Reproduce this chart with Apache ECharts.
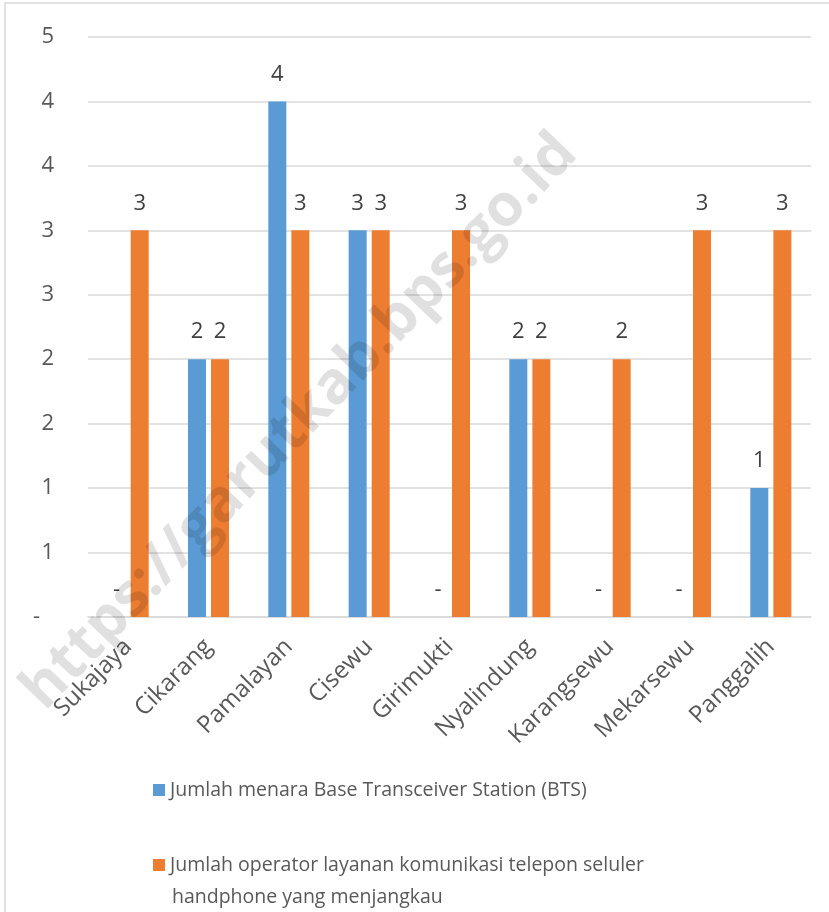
<!DOCTYPE html>
<html>
<head>
<meta charset="utf-8">
<script src="https://cdn.jsdelivr.net/npm/echarts@6/dist/echarts.min.js"></script>
<style>
  html, body { margin: 0; padding: 0; background: #fff; }
  #chart { width: 829px; height: 912px; }
</style>
</head>
<body>
<div id="chart"></div>
<script>
const categories = ["Sukajaya", "Cikarang", "Pamalayan", "Cisewu", "Girimukti", "Nyalindung", "Karangsewu", "Mekarsewu", "Panggalih"];
const btsValues = [0, 2, 4, 3, 0, 2, 0, 0, 1];
const operatorValues = [3, 2, 3, 3, 3, 2, 2, 3, 3];
const btsName = "Jumlah menara Base Transceiver Station (BTS)";
const operatorName = "Jumlah operator layanan komunikasi telepon seluler handphone yang menjangkau";

const font = "Open Sans";
const chart = echarts.init(document.getElementById("chart"));

// Excel-style: zero shows as "-", other values rounded to whole numbers
function dashZero(v) {
  return v === 0 ? "-" : String(Math.round(v));
}

const labelStyle = {
  show: true,
  position: "top",
  distance: 16,
  fontFamily: font,
  fontSize: 22,
  color: "#404040",
  formatter: (p) => dashZero(p.value)
};

chart.setOption({
  animation: false,
  textStyle: { fontFamily: font },
  grid: { left: 88, right: 18, top: 37, bottom: 295 },
  graphic: [
    {
      type: "rect",
      shape: { x: 5, y: 3, width: 840, height: 930 },
      style: { fill: "none", stroke: "#d9d9d9", lineWidth: 1.5 },
      silent: true
    },
    {
      type: "text",
      x: 300, y: 422,
      rotation: Math.PI / 4 + 0.02,
      z: 100,
      silent: true,
      style: {
        text: "https://garutkab.bps.go.id",
        fontFamily: font,
        fontWeight: "bold",
        fontSize: 59,
        fill: "rgba(0,0,0,0.12)",
        align: "center",
        verticalAlign: "middle"
      }
    },
    {
      type: "text",
      x: 172, y: 897,
      silent: true,
      style: {
        text: "handphone yang menjangkau",
        fontFamily: font,
        fontSize: 19.5,
        fill: "#595959",
        verticalAlign: "middle"
      }
    }
  ],
  legend: [
    {
      data: [btsName],
      left: 153, top: 776, padding: 0,
      itemWidth: 12, itemHeight: 12, icon: "rect",
      textStyle: { fontFamily: font, fontSize: 19.5, color: "#595959", lineHeight: 28 }
    },
    {
      data: [operatorName],
      left: 153, top: 851, padding: 0,
      itemWidth: 12, itemHeight: 12, icon: "rect",
      formatter: () => "Jumlah operator layanan komunikasi telepon seluler",
      textStyle: { fontFamily: font, fontSize: 19.5, color: "#595959", lineHeight: 28 }
    }
  ],
  xAxis: {
    type: "category",
    data: categories,
    axisTick: { show: false },
    axisLine: { lineStyle: { color: "#d9d9d9", width: 1.5 } },
    axisLabel: {
      rotate: 45,
      interval: 0,
      margin: 26,
      fontFamily: font,
      fontSize: 24,
      color: "#595959"
    }
  },
  yAxis: {
    type: "value",
    min: 0,
    max: 4.5,
    interval: 0.5,
    axisLine: { show: false },
    axisTick: { show: false },
    splitLine: { lineStyle: { color: "#d9d9d9", width: 1.5 } },
    axisLabel: {
      margin: 34,
      fontFamily: font,
      fontSize: 22,
      color: "#595959",
      formatter: (v) => v === 0 ? "{z|-}" : String(Math.round(v)),
      rich: {
        z: { fontFamily: font, fontSize: 22, color: "#595959", padding: [0, 14, 0, 0] }
      }
    }
  },
  series: [
    {
      name: btsName,
      type: "bar",
      data: btsValues,
      barWidth: 18,
      barGap: "28%",
      itemStyle: { color: "#5b9bd5" },
      label: labelStyle
    },
    {
      name: operatorName,
      type: "bar",
      data: operatorValues,
      barWidth: 18,
      itemStyle: { color: "#ed7d31" },
      label: labelStyle
    }
  ]
});
</script>
</body>
</html>
